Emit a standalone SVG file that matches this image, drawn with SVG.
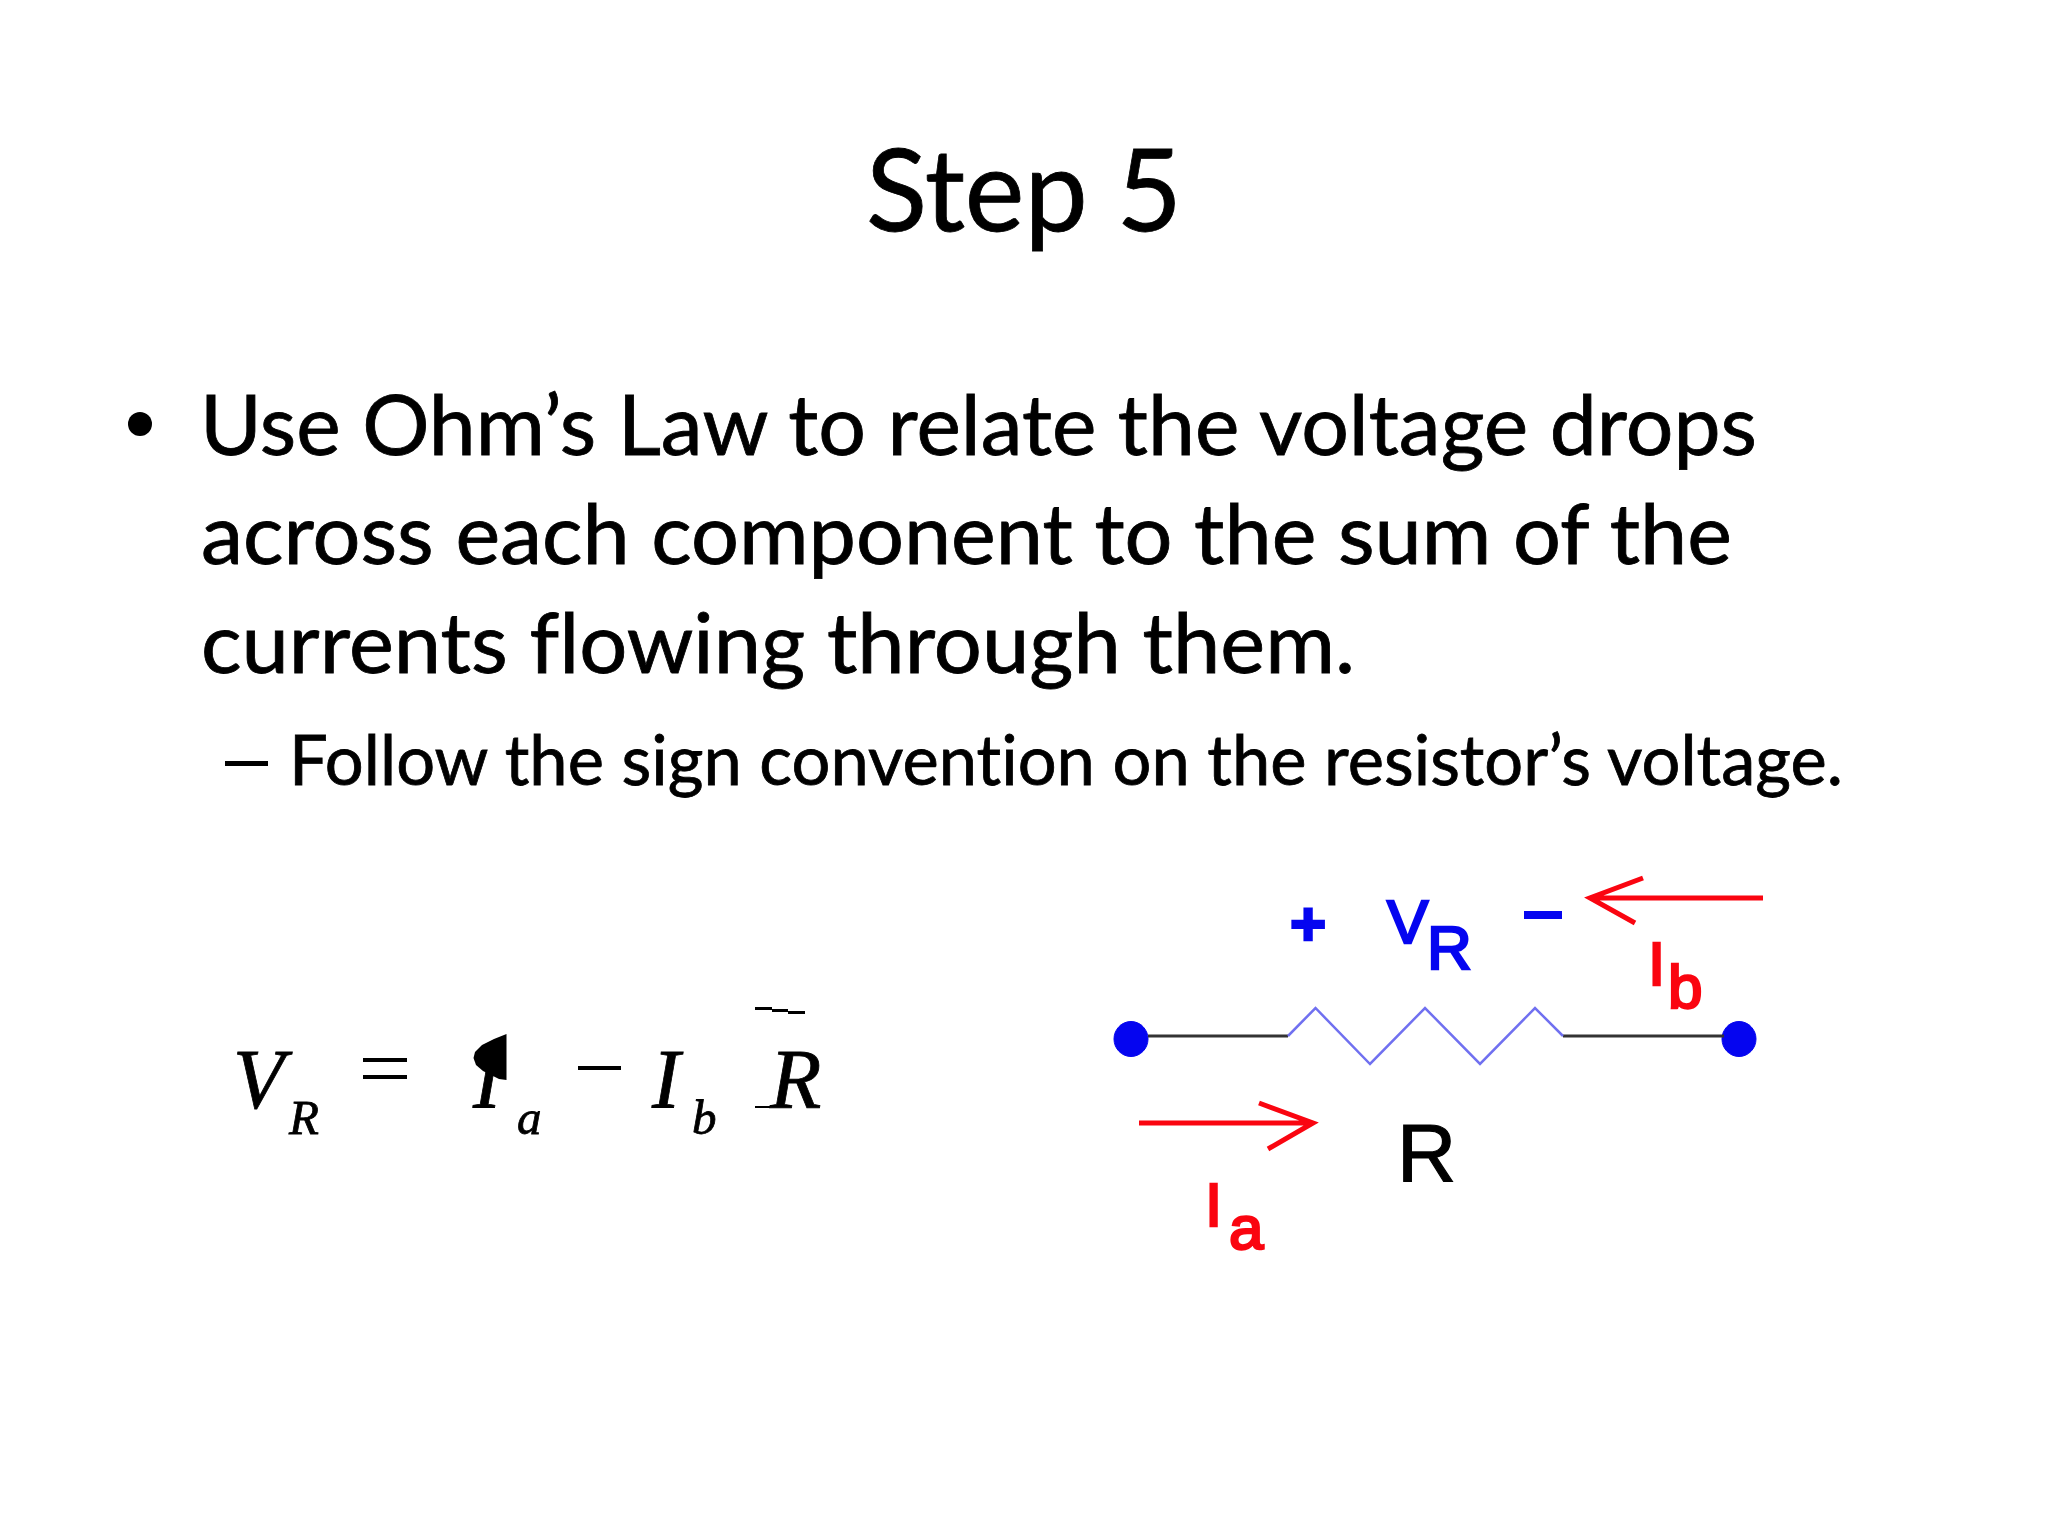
<svg xmlns="http://www.w3.org/2000/svg" width="2048" height="1536" viewBox="0 0 2048 1536">
<style>
.t{font-family:Lato,"Open Sans",sans-serif;fill:#000;stroke:#000;stroke-width:.8px;font-variant-ligatures:none}
.b{font-size:83px}
.m{font-family:"Liberation Serif",serif;font-style:italic;fill:#000;stroke:#000;stroke-width:.8px}
.c{font-family:"Liberation Sans",sans-serif;font-size:62px;stroke-width:2.5px}
.blue{fill:#0505f0;stroke:#0505f0}.red{fill:#fa0510;stroke:#fa0510}
.arrow{fill:none;stroke:#fa0510;stroke-width:5}
</style>
<rect width="2048" height="1536" fill="#fff"/>
<g id="title"><text class="t" x="866" y="231" font-size="114" textLength="316" lengthAdjust="spacingAndGlyphs">Step 5</text></g>
<g id="body">
<circle cx="140" cy="424" r="12" fill="#000"/>
<text class="t b" x="200" y="455" textLength="1557" lengthAdjust="spacingAndGlyphs">Use Ohm’s Law to relate the voltage drops</text>
<text class="t b" x="201" y="564" textLength="1531" lengthAdjust="spacingAndGlyphs">across each component to the sum of the</text>
<text class="t b" x="201" y="673" textLength="1154" lengthAdjust="spacingAndGlyphs">currents flowing through them.</text>
<rect x="225" y="761" width="43" height="5" fill="#000"/>
<text class="t" font-size="70" x="289" y="785" textLength="1554" lengthAdjust="spacingAndGlyphs">Follow the sign convention on the resistor’s voltage.</text>
</g>
<g id="equation">
<text class="m" font-size="84" x="233" y="1108">V</text>
<text class="m" font-size="49" x="289" y="1134">R</text>
<rect x="363" y="1058" width="44" height="4"/><rect x="363" y="1075" width="44" height="4"/>
<text class="m" font-size="84" x="473" y="1108">I</text>
<polygon points="506.500,1034 494,1039 482,1045 475,1052 473.500,1058 476,1065 483,1071 491,1075 499,1079 506.500,1080"/>
<text class="m" font-size="49" x="517" y="1134">a</text>
<rect x="578" y="1066" width="43" height="4"/>
<text class="m" font-size="84" x="652" y="1108">I</text>
<text class="m" font-size="49" x="692" y="1134">b</text>
<text class="m" font-size="84" x="770" y="1108">R</text>
<path d="M755 1007H772V1009H788V1011H805V1014H788V1012H772V1010H755Z"/>
<path d="M755 1106H770V1105H790V1107H770V1108H755Z"/>
</g>
<g id="terminal-left"><ellipse cx="1131" cy="1039" rx="17" ry="17.500" class="blue"/></g>
<g id="terminal-right"><ellipse cx="1739" cy="1039" rx="17" ry="17.500" class="blue"/></g>
<g id="connectors">
<path d="M1148 1036H1288M1563 1036H1724" fill="none" stroke="#333" stroke-width="3"/>
<polyline points="1288,1036 1315.500,1008 1370,1064 1425,1008 1480,1064 1535,1008 1563,1036" fill="none" stroke="#7070f0" stroke-width="2.500"/>
<path class="arrow" d="M1763 898H1590M1643 878L1590 898L1635 923"/>
<path class="arrow" d="M1139 1123H1313M1259 1103L1313 1123L1268 1149"/>
</g>
<g id="labels">
<text class="c blue" x="1308" y="945" text-anchor="middle" font-weight="700">+</text>
<rect x="1524" y="911" width="38" height="8" class="blue" style="stroke:none"/>
<text class="c blue" x="1387" y="943">V</text>
<text class="c blue" x="1427" y="969">R</text>
<text class="c red" x="1648" y="985">I</text>
<text class="c red" x="1668" y="1008">b</text>
<text class="c red" x="1205" y="1226">I</text>
<text class="c red" x="1229" y="1249">a</text>
<text class="c" style="font-size:82px;stroke:#000;stroke-width:1.200px" x="1397" y="1181">R</text>
</g>
</svg>
